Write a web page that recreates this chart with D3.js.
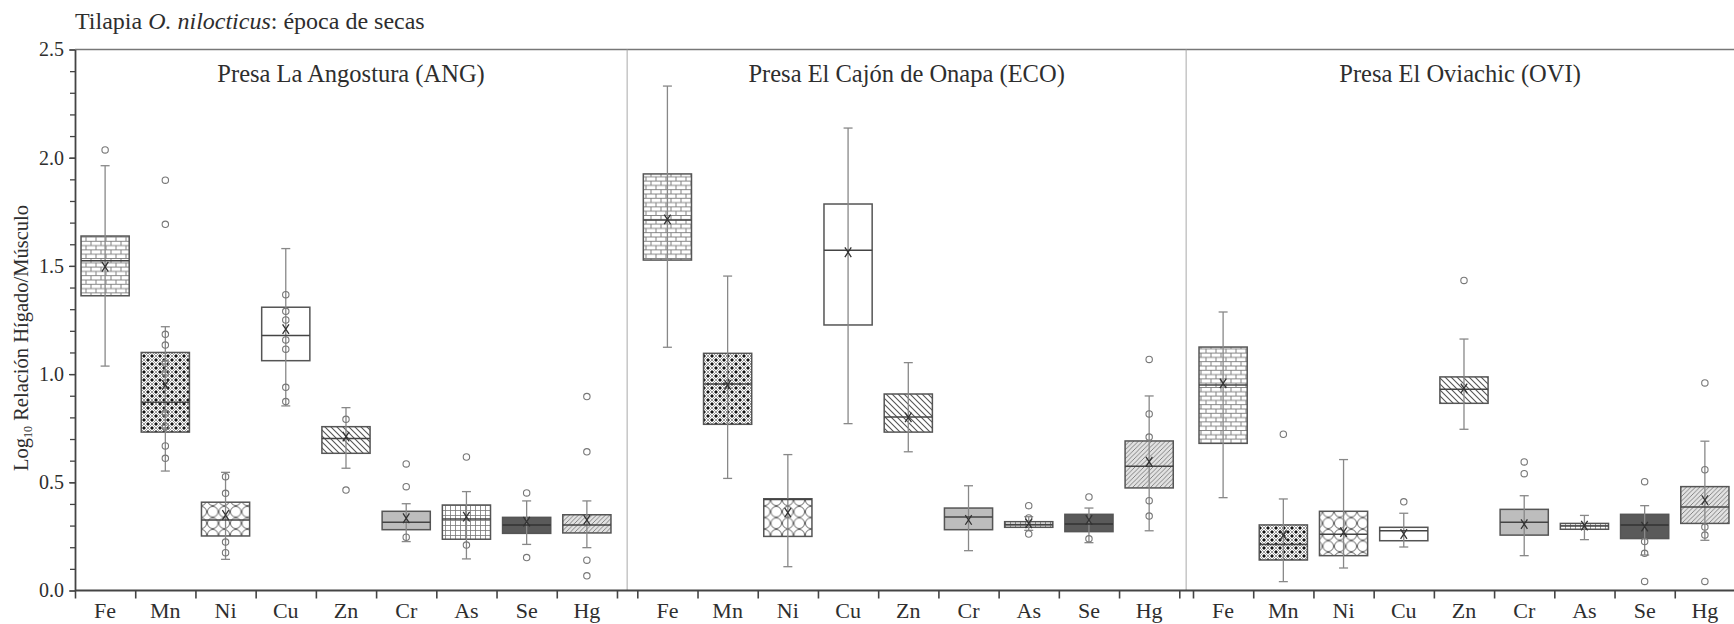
<!DOCTYPE html>
<html>
<head>
<meta charset="utf-8">
<script src="https://cdn.jsdelivr.net/npm/d3@7"></script>
<style>
  html, body { margin: 0; padding: 0; background: #fff; }
  svg { display: block; }
  svg text { font-family: "Liberation Serif", "Times New Roman", Times, Tinos, "DejaVu Serif", serif; }
</style>
</head>
<body>
<svg id="chart" width="1734" height="624"></svg>
<script>
// Metals and reservoirs
const metals = ["Fe", "Mn", "Ni", "Cu", "Zn", "Cr", "As", "Se", "Hg"];
const reservoirs = ["Presa La Angostura (ANG)", "Presa El Cajón de Onapa (ECO)", "Presa El Oviachic (OVI)"];
const yTicks = [0, 0.5, 1.0, 1.5, 2.0, 2.5];

// Log10 liver/muscle ratio summaries, one value per metal (Fe..Hg)
// La Angostura
const angLow    = [1.037, 0.552, 0.144, 0.853, 0.565, 0.226, 0.146, 0.213, 0.198];
const angQ1     = [1.362, 0.732, 0.252, 1.062, 0.634, 0.281, 0.237, 0.264, 0.266];
const angMedian = [1.524, 0.870, 0.326, 1.178, 0.702, 0.315, 0.330, 0.303, 0.303];
const angQ3     = [1.638, 1.100, 0.408, 1.309, 0.757, 0.366, 0.395, 0.338, 0.350];
const angHigh   = [1.963, 1.219, 0.546, 1.580, 0.845, 0.401, 0.457, 0.414, 0.414];
const angMean   = [1.496, 0.950, 0.349, 1.208, 0.711, 0.334, 0.341, 0.318, 0.326];
const angPoints = [
  [2.036],
  [1.896, 1.692, 1.184, 1.134, 1.050, 1.005, 0.820, 0.757, 0.668, 0.611],
  [0.526, 0.449, 0.224, 0.175],
  [1.367, 1.290, 1.250, 1.158, 1.115, 0.939, 0.873],
  [0.791, 0.464],
  [0.585, 0.480, 0.246],
  [0.617, 0.210],
  [0.451, 0.152],
  [0.896, 0.641, 0.140, 0.068]
];

// El Cajón de Onapa
const ecoLow    = [1.124, 0.518, 0.110, 0.771, 0.641, 0.184, 0.278, 0.221, 0.276];
const ecoQ1     = [1.527, 0.768, 0.250, 1.227, 0.732, 0.281, 0.292, 0.272, 0.474];
const ecoMedian = [1.712, 0.954, 0.420, 1.572, 0.802, 0.340, 0.305, 0.307, 0.574];
const ecoQ3     = [1.925, 1.096, 0.424, 1.786, 0.908, 0.381, 0.318, 0.352, 0.691];
const ecoHigh   = [2.331, 1.453, 0.628, 2.137, 1.053, 0.484, 0.341, 0.381, 0.899];
const ecoMean   = [1.715, 0.950, 0.360, 1.563, 0.800, 0.326, 0.310, 0.326, 0.595];
const ecoPoints = [
  [], [], [], [], [], [],
  [0.392, 0.335, 0.261],
  [0.432, 0.239],
  [1.068, 0.816, 0.709, 0.415, 0.344]
];

// El Oviachic
const oviLow    = [0.429, 0.041, 0.104, 0.201, 0.745, 0.161, 0.235, 0.164, 0.232];
const oviQ1     = [0.680, 0.141, 0.161, 0.230, 0.865, 0.256, 0.283, 0.240, 0.310];
const oviMedian = [0.950, 0.213, 0.260, 0.276, 0.930, 0.315, 0.298, 0.303, 0.386];
const oviQ3     = [1.125, 0.303, 0.366, 0.292, 0.987, 0.375, 0.310, 0.352, 0.480];
const oviHigh   = [1.287, 0.423, 0.605, 0.357, 1.162, 0.438, 0.347, 0.392, 0.690];
const oviMean   = [0.957, 0.256, 0.270, 0.261, 0.934, 0.307, 0.300, 0.295, 0.418];
const oviPoints = [
  [],
  [0.722],
  [],
  [0.410],
  [1.433],
  [0.594, 0.540],
  [],
  [0.503, 0.226, 0.172, 0.042],
  [0.959, 0.558, 0.293, 0.256, 0.042]
];

const panelStats = [
  { low: angLow, q1: angQ1, median: angMedian, q3: angQ3, high: angHigh, mean: angMean, points: angPoints },
  { low: ecoLow, q1: ecoQ1, median: ecoMedian, q3: ecoQ3, high: ecoHigh, mean: ecoMean, points: ecoPoints },
  { low: oviLow, q1: oviQ1, median: oviMedian, q3: oviQ3, high: oviHigh, mean: oviMean, points: oviPoints }
];

// ---- layout ----
const FONT = '"Liberation Serif", "Times New Roman", Times, Tinos, "DejaVu Serif", serif';
const TEXT = "#2e2e2e";
const svg = d3.select("#chart");
const plotLeft = 75, plotRight = 1734, plotTop = 49.5, plotBottom = 590.5;
const bandStep = 60.22;
const panelStarts = [75, 637.3, 1193];

const y = d3.scaleLinear().domain([0, 2.5]).range([plotBottom, plotTop]);

const panels = panelStarts.map(s =>
  d3.scaleBand().domain(metals).range([s, s + bandStep * metals.length]).padding(0));

// ---- fill patterns, one per metal ----
const defs = svg.append("defs");
function pattern(id, w, h) {
  return defs.append("pattern").attr("id", id).attr("patternUnits", "userSpaceOnUse")
    .attr("width", w).attr("height", h);
}
// Fe: bricks
{
  const p = pattern("pFe", 10, 8.6);
  p.append("rect").attr("width", 10).attr("height", 8.6).attr("fill", "#fff");
  p.append("path").attr("d", "M0,0.5H10M0,4.8H10M1,0.5V4.8M6,4.8V8.6")
    .attr("stroke", "#777").attr("stroke-width", 0.9).attr("fill", "none");
}
// Mn: dark dots in a diagonal weave
{
  const p = pattern("pMn", 8, 8);
  p.append("rect").attr("width", 8).attr("height", 8).attr("fill", "#fff");
  p.append("path").attr("d", "M0,0L8,8M8,0L0,8")
    .attr("stroke", "#999").attr("stroke-width", 1).attr("fill", "none");
  [[4, 0], [0, 4], [8, 4], [4, 8]].forEach(([cx, cy]) =>
    p.append("path").attr("d", `M${cx - 2},${cy}L${cx},${cy - 2}L${cx + 2},${cy}L${cx},${cy + 2}Z`)
      .attr("fill", "#111"));
}
// Ni: packed rings
{
  const p = pattern("pNi", 11.5, 11.5);
  p.append("rect").attr("width", 11.5).attr("height", 11.5).attr("fill", "#fff");
  p.append("circle").attr("cx", 5.75).attr("cy", 5.75).attr("r", 5.3)
    .attr("stroke", "#555").attr("stroke-width", 0.9).attr("fill", "none");
}
// Zn: backslash hatch
{
  const p = pattern("pZn", 6, 6);
  p.append("rect").attr("width", 6).attr("height", 6).attr("fill", "#fff");
  p.append("path").attr("d", "M-1,-1L7,7M-1,5L1,7M5,-1L7,1")
    .attr("stroke", "#555").attr("stroke-width", 1.1);
}
// As: fine grid
{
  const p = pattern("pAs", 5, 5);
  p.append("rect").attr("width", 5).attr("height", 5).attr("fill", "#fff");
  p.append("path").attr("d", "M0,0.5H5M0.5,0V5")
    .attr("stroke", "#777").attr("stroke-width", 0.8);
}
// Hg: slash hatch over light grey
{
  const p = pattern("pHg", 4.5, 4.5);
  p.append("rect").attr("width", 4.5).attr("height", 4.5).attr("fill", "#e2e2e2");
  p.append("path").attr("d", "M-1,5.5L5.5,-1M-1,1L1,-1M3.5,5.5L5.5,3.5")
    .attr("stroke", "#777").attr("stroke-width", 0.9);
}
const metalFill = {
  Fe: "url(#pFe)", Mn: "url(#pMn)", Ni: "url(#pNi)", Cu: "#fff", Zn: "url(#pZn)",
  Cr: "#bdbdbd", As: "url(#pAs)", Se: "#5a5a5a", Hg: "url(#pHg)"
};

// ---- frame: top rule and panel separators ----
svg.append("line").attr("x1", plotLeft).attr("x2", plotRight).attr("y1", plotTop).attr("y2", plotTop)
  .attr("stroke", "#777").attr("stroke-width", 1.6);
[0, 1].forEach(i => {
  const xs = (panels[i].range()[1] + panels[i + 1].range()[0]) / 2;
  svg.append("line").attr("x1", xs).attr("x2", xs).attr("y1", plotTop).attr("y2", plotBottom)
    .attr("stroke", "#aaa").attr("stroke-width", 1);
});

// ---- y axis ----
const yMinor = svg.append("g").attr("transform", `translate(${plotLeft},0)`)
  .call(d3.axisLeft(y).tickValues(d3.range(0, 26).map(i => i / 10)).tickFormat("").tickSize(5).tickSizeOuter(0));
yMinor.select(".domain").remove();
yMinor.selectAll("line").attr("stroke", "#444").attr("stroke-width", 1.3);

const yAxis = svg.append("g").attr("transform", `translate(${plotLeft},0)`)
  .call(d3.axisLeft(y).tickValues(yTicks).tickFormat(d3.format(".1f")).tickSize(6).tickSizeOuter(0).tickPadding(5));
yAxis.attr("font-family", FONT);
yAxis.select(".domain").attr("stroke", "#444").attr("stroke-width", 1.8);
yAxis.selectAll("line").attr("stroke", "#444").attr("stroke-width", 1.3);
yAxis.selectAll("text").attr("font-family", FONT).attr("font-size", 20).attr("fill", TEXT);

// ---- x axis baseline ----
svg.append("line").attr("x1", plotLeft).attr("x2", plotRight).attr("y1", plotBottom).attr("y2", plotBottom)
  .attr("stroke", "#444").attr("stroke-width", 1.8);

panels.forEach((band, pi) => {
  // edge ticks
  const edges = d3.scaleLinear().domain([0, metals.length]).range(band.range());
  const gt = svg.append("g").attr("transform", `translate(0,${plotBottom})`)
    .call(d3.axisBottom(edges).tickValues(d3.range(0, metals.length + 1)).tickFormat("").tickSize(8).tickSizeOuter(0));
  gt.select(".domain").remove();
  gt.selectAll("line").attr("stroke", "#444").attr("stroke-width", 1.6);

  // category labels
  const gl = svg.append("g").attr("transform", `translate(0,${plotBottom})`)
    .call(d3.axisBottom(band).tickSize(0).tickPadding(12));
  gl.attr("font-family", FONT);
  gl.select(".domain").remove();
  gl.selectAll("text").attr("font-family", FONT).attr("font-size", 22).attr("fill", TEXT);

  // panel title
  const [r0, r1] = band.range();
  const sepL = pi === 0 ? plotLeft : (panels[pi - 1].range()[1] + r0) / 2;
  const sepR = pi === 2 ? plotRight : (r1 + panels[pi + 1].range()[0]) / 2;
  svg.append("text").attr("x", (sepL + sepR) / 2).attr("y", 82)
    .attr("font-family", FONT)
    .attr("text-anchor", "middle").attr("font-size", 24.5).attr("fill", TEXT)
    .text(reservoirs[pi]);

  // boxes
  const st = panelStats[pi];
  const bw = band.bandwidth() * 0.8;
  const cap = 9;
  metals.forEach((m, i) => {
    const cx = band(m) + band.bandwidth() / 2;
    const g = svg.append("g").attr("class", "box");
    g.append("rect")
      .attr("x", cx - bw / 2).attr("width", bw)
      .attr("y", y(st.q3[i])).attr("height", y(st.q1[i]) - y(st.q3[i]))
      .attr("fill", metalFill[m]).attr("stroke", "#555").attr("stroke-width", 1.5);
    // whisker
    g.append("line").attr("x1", cx).attr("x2", cx).attr("y1", y(st.high[i])).attr("y2", y(st.low[i]))
      .attr("stroke", "#888").attr("stroke-width", 1.3);
    [st.high[i], st.low[i]].forEach(v =>
      g.append("line").attr("x1", cx - cap / 2).attr("x2", cx + cap / 2).attr("y1", y(v)).attr("y2", y(v))
        .attr("stroke", "#888").attr("stroke-width", 1.3));
    // median
    g.append("line").attr("x1", cx - bw / 2).attr("x2", cx + bw / 2)
      .attr("y1", y(st.median[i])).attr("y2", y(st.median[i]))
      .attr("stroke", m === "Se" ? "#333" : "#444").attr("stroke-width", 1.5);
    // individual values
    st.points[i].forEach(v =>
      g.append("circle").attr("cx", cx).attr("cy", y(v)).attr("r", 3.2)
        .attr("fill", "none").attr("stroke", "#777").attr("stroke-width", 1.1));
    // mean marker
    const my = y(st.mean[i]);
    g.append("path").attr("d", `M${cx - 3.2},${my - 4.8}L${cx + 3.2},${my + 4.8}M${cx + 3.2},${my - 4.8}L${cx - 3.2},${my + 4.8}`)
      .attr("stroke", "#333").attr("stroke-width", 1.3).attr("fill", "none");
  });
});

// ---- titles ----
const title = svg.append("text").attr("x", 75).attr("y", 29)
  .attr("font-family", FONT).attr("font-size", 24).attr("fill", TEXT);
title.append("tspan").text("Tilapia ");
title.append("tspan").attr("font-style", "italic").text("O. nilocticus");
title.append("tspan").text(": época de secas");

const yl = svg.append("text")
  .attr("transform", `translate(28,${(plotTop + plotBottom) / 2 + 18}) rotate(-90)`)
  .attr("font-family", FONT)
  .attr("text-anchor", "middle").attr("font-size", 20.5).attr("fill", TEXT);
yl.append("tspan").text("Log");
yl.append("tspan").attr("font-size", 12).attr("dy", 4).text("10");
yl.append("tspan").attr("dy", -4).text(" Relación Hígado/Músculo");
</script>
</body>
</html>
